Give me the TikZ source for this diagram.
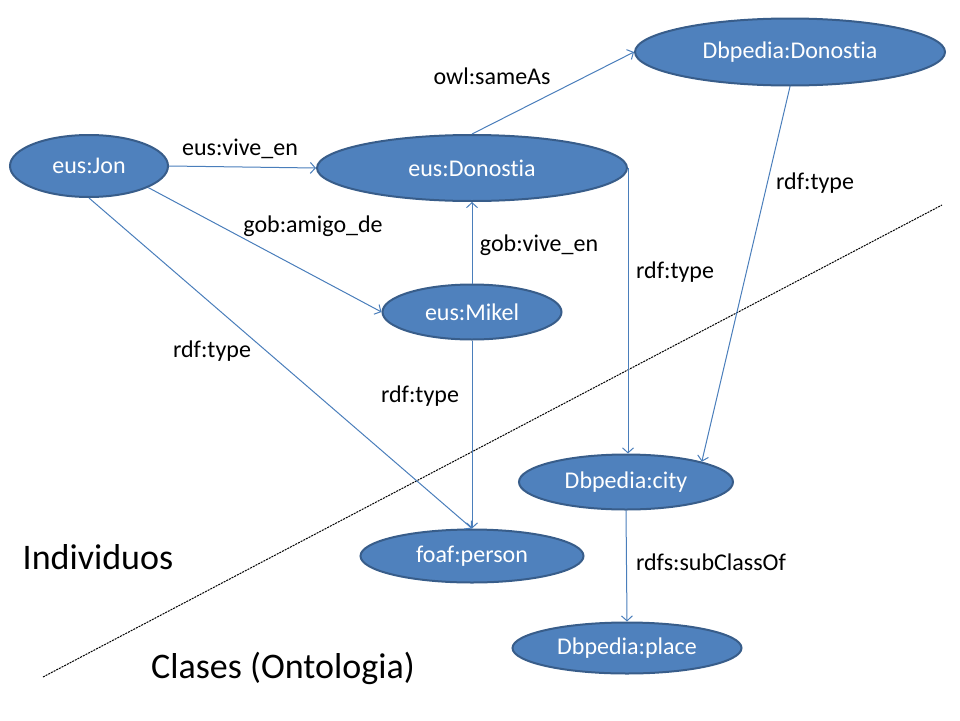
\documentclass[tikz,border=0pt]{standalone}
\usepackage{fontspec}
\setmainfont[Ligatures=NoCommon]{Carlito}
\usetikzlibrary{shapes.geometric,arrows.meta}
\definecolor{entfill}{HTML}{4F81BD}
\definecolor{entline}{HTML}{385D8A}
\definecolor{relcol}{HTML}{4A7EBB}

\begin{document}
\begin{tikzpicture}[x=1pt, y=-1pt,
		ent/.style={ellipse, draw=entline, line width=2pt, fill=entfill, text=white, inner sep=0pt, font=\fontsize{24}{28}\selectfont},
		rel/.style={draw=relcol, line width=1pt, -{Straight Barb[length=5pt,width=11pt]}},
		lbl/.style={inner sep=0pt, font=\fontsize{24}{28}\selectfont},
		big/.style={inner sep=0pt, font=\fontsize{36}{42}\selectfont},
	]
	\useasboundingbox (0,0) rectangle (960,720);
	\coordinate (cutA) at (43,677);
	\coordinate (cutB) at (942,205);
	\draw[dash pattern=on 2pt off 1pt, line width=1pt] (cutA) -- (cutB);
	\node[ent, minimum width=158pt, minimum height=62pt] (jon) at (89,166) {eus:Jon};
	\node[ent, minimum width=310pt, minimum height=66pt] (edon) at (472,168) {eus:Donostia};
	\node[ent, minimum width=310pt, minimum height=67pt] (ddon) at (790,52) {Dbpedia:Donostia};
	\node[ent, minimum width=179pt, minimum height=55pt] (mikel) at (472,312) {eus:Mikel};
	\node[ent, minimum width=214pt, minimum height=55pt] (city) at (626,482) {Dbpedia:city};
	\node[ent, minimum width=223pt, minimum height=53pt] (person) at (472,556) {foaf:person};
	\node[ent, minimum width=229pt, minimum height=51pt] (place) at (627,648) {Dbpedia:place};
	\draw[rel] (jon.east) -- (edon.west);
	\draw[rel] (edon.north) -- (ddon.west);
	\draw[rel] (jon.-20) -- (mikel.west);
	\draw[rel] (jon.south) -- (person.north);
	\draw[rel] (mikel.north) -- (edon.south);
	\draw[rel] (mikel.south) -- (person.north);
	\draw[rel] (edon.east) -- (edon.east |- city.north);
	\draw[rel] (ddon.south) -- (city.15);
	\draw[rel] (city.south) -- (place.north);
	\node[lbl] (l1) at (240,149) {eus:vive\_en};
	\node[lbl] (l2) at (492,76) {owl:sameAs};
	\node[lbl] (l3) at (313,226) {gob:amigo\_de};
	\node[lbl] (l4) at (539,245) {gob:vive\_en};
	\node[lbl] (l5) at (815,183) {rdf:type};
	\node[lbl] (l6) at (675,272) {rdf:type};
	\node[lbl] (l7) at (212,351) {rdf:type};
	\node[lbl] (l8) at (420,396) {rdf:type};
	\node[lbl] (l9) at (711,562) {rdfs:subClassOf};
	\node[big] (ind) at (98,557) {Individuos};
	\node[big] (cls) at (283,668) {Clases (Ontologia)};
\end{tikzpicture}
\end{document}
